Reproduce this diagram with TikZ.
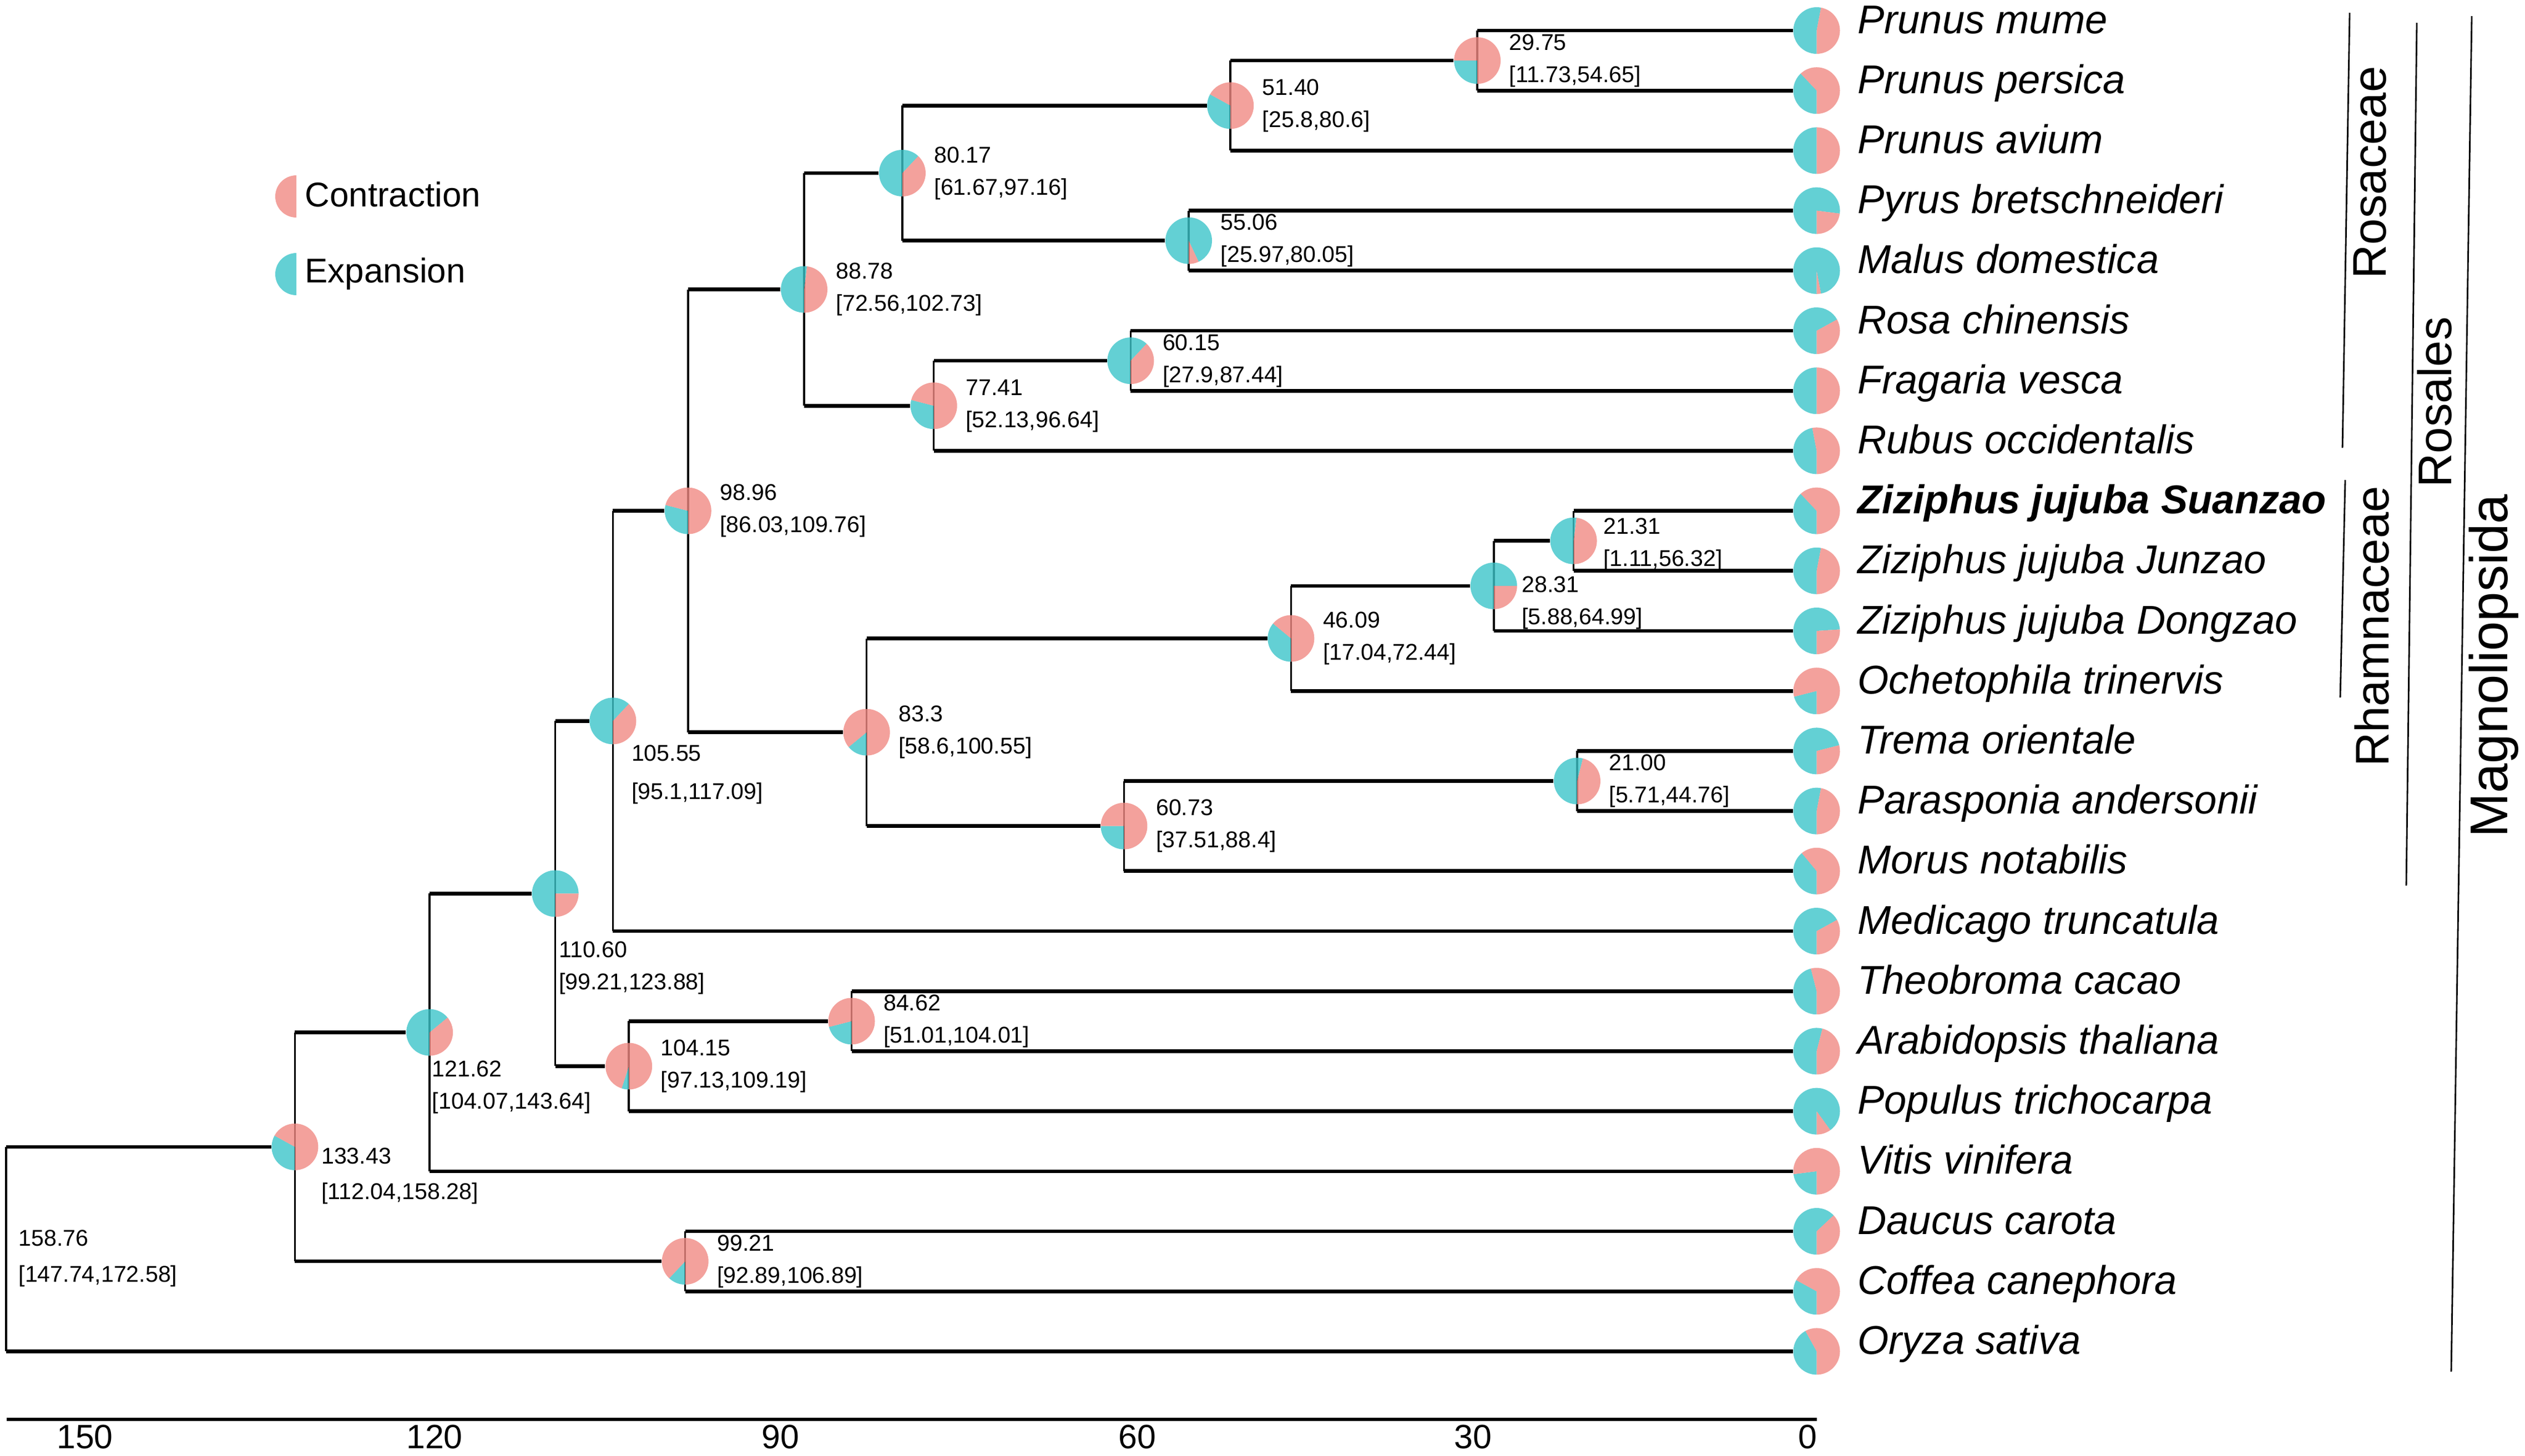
\documentclass[tikz,border=0pt]{standalone}
\usepackage{fontspec}
\setmainfont{Liberation Sans}
\usetikzlibrary{positioning}

\definecolor{expcol}{RGB}{60,196,201}
\definecolor{concol}{RGB}{240,137,131}

% age -> x (cm), tip row -> y (cm)
\newcommand{\agex}[1]{32.735-0.2055*#1}
\newcommand{\rowy}[1]{-0.55-1.082*#1}
\newcommand{\tipfont}{\fontsize{20.6pt}{24pt}\selectfont\itshape}
\newcommand{\agefont}{\fontsize{11.7pt}{16.5pt}\selectfont}
\newcommand{\agetext}[2]{#1\\{}[#2]}
% #1 node, #2 share of expansion (clockwise from 6 o'clock)
\newcommand{\drawpie}[2]{%
  \fill[expfill] (#1.center) -- ++(-90:0.42) arc[start angle=270, end angle={270-360*#2}, radius=0.42] -- cycle;
  \fill[confill] (#1.center) -- ++(-90:0.42) arc[start angle=-90, end angle={270-360*#2}, radius=0.42] -- cycle;
}

\tikzset{
  pienode/.style={circle, inner sep=0pt, minimum size=0.84cm},
  expfill/.style={fill=expcol, fill opacity=0.8},
  confill/.style={fill=concol, fill opacity=0.8},
  hbranch/.style={line width=1.9pt},
  vbranch/.style={line width=1pt},
  tiplabel/.style={font=\tipfont, inner sep=0pt, anchor=base west},
  agelabel/.style={font=\agefont, align=left, inner sep=0pt, anchor=west},
  legendlabel/.style={font=\fontsize{17.6pt}{20pt}\selectfont, inner sep=0pt, anchor=west},
  ticklabel/.style={font=\fontsize{17.3pt}{20pt}\selectfont, inner sep=0pt},
  cladebar/.style={line width=0.8pt},
  cladelabel/.style={font=\fontsize{24.2pt}{28pt}\selectfont, rotate=90, inner sep=0pt},
}

\begin{document}
\begin{tikzpicture}
\useasboundingbox (0,0) rectangle (45.5,-26.23);

% tips
\foreach \nm/\row/\txt in {mume/0/Prunus mume, persica/1/Prunus persica,
  avium/2/Prunus avium, pyrus/3/Pyrus bretschneideri, malus/4/Malus domestica,
  rosa/5/Rosa chinensis, fragaria/6/Fragaria vesca, rubus/7/Rubus occidentalis,
  suanzao/8/{\bfseries Ziziphus jujuba Suanzao}, junzao/9/Ziziphus jujuba Junzao,
  dongzao/10/Ziziphus jujuba Dongzao, ochetophila/11/Ochetophila trinervis,
  trema/12/Trema orientale, parasponia/13/Parasponia andersonii,
  morus/14/Morus notabilis, medicago/15/Medicago truncatula,
  theobroma/16/Theobroma cacao, arabidopsis/17/Arabidopsis thaliana,
  populus/18/Populus trichocarpa, vitis/19/Vitis vinifera,
  daucus/20/Daucus carota, coffea/21/Coffea canephora, oryza/22/Oryza sativa}
{
  \node[pienode] (\nm) at (32.735, {\rowy{\row}}) {};
  \node[tiplabel] (l\nm) at ([xshift=0.73cm, yshift=-0.05cm]\nm.center) {\txt};
}

% internal nodes
\node[pienode] (n2975) at ({\agex{29.75}}, {\rowy{0.5}}) {};
\node[pienode] (n5140) at ({\agex{51.40}}, {\rowy{1.25}}) {};
\node[pienode] (n5506) at ({\agex{55.06}}, {\rowy{3.5}}) {};
\node[pienode] (n8017) at ({\agex{80.17}}, {\rowy{2.375}}) {};
\node[pienode] (n6015) at ({\agex{60.15}}, {\rowy{5.5}}) {};
\node[pienode] (n7741) at ({\agex{77.41}}, {\rowy{6.25}}) {};
\node[pienode] (n8878) at ({\agex{88.78}}, {\rowy{4.3125}}) {};
\node[pienode] (n2131) at ({\agex{21.31}}, {\rowy{8.5}}) {};
\node[pienode] (n2831) at ({\agex{28.31}}, {\rowy{9.25}}) {};
\node[pienode] (n4609) at ({\agex{46.09}}, {\rowy{10.125}}) {};
\node[pienode] (n2100) at ({\agex{21.00}}, {\rowy{12.5}}) {};
\node[pienode] (n6073) at ({\agex{60.73}}, {\rowy{13.25}}) {};
\node[pienode] (n833) at ({\agex{83.3}}, {\rowy{11.6875}}) {};
\node[pienode] (n9896) at ({\agex{98.96}}, {\rowy{8}}) {};
\node[pienode] (n10555) at ({\agex{105.55}}, {\rowy{11.5}}) {};
\node[pienode] (n8462) at ({\agex{84.62}}, {\rowy{16.5}}) {};
\node[pienode] (n10415) at ({\agex{104.15}}, {\rowy{17.25}}) {};
\node[pienode] (n11060) at ({\agex{110.60}}, {\rowy{14.375}}) {};
\node[pienode] (n12162) at ({\agex{121.62}}, {\rowy{16.6875}}) {};
\node[pienode] (n9921) at ({\agex{99.21}}, {\rowy{20.5}}) {};
\node[pienode] (n13343) at ({\agex{133.43}}, {\rowy{18.59375}}) {};
\coordinate (root) at ({\agex{158.76}}, {\rowy{20.296875}});

% branches
\foreach \p/\a/\b in {n2975/mume/persica, n5140/n2975/avium, n5506/pyrus/malus,
  n8017/n5140/n5506, n6015/rosa/fragaria, n7741/n6015/rubus, n8878/n8017/n7741,
  n2131/suanzao/junzao, n2831/n2131/dongzao, n4609/n2831/ochetophila,
  n2100/trema/parasponia, n6073/n2100/morus, n833/n4609/n6073,
  n9896/n8878/n833, n10555/n9896/medicago, n8462/theobroma/arabidopsis,
  n10415/n8462/populus, n11060/n10555/n10415, n12162/n11060/vitis,
  n9921/daucus/coffea, n13343/n12162/n9921, root/n13343/oryza}
{
  \draw[vbranch] (\p |- \a) -- (\p |- \b);
  \draw[hbranch] (\p |- \a) -- (\a);
  \draw[hbranch] (\p |- \b) -- (\b);
}

% pies
\foreach \nm/\f in {mume/0.53, persica/0.38, avium/0.5, pyrus/0.77, malus/0.97,
  rosa/0.67, fragaria/0.5, rubus/0.47, suanzao/0.38, junzao/0.53, dongzao/0.74,
  ochetophila/0.21, trema/0.71, parasponia/0.53, morus/0.39, medicago/0.67,
  theobroma/0.46, arabidopsis/0.54, populus/0.9, vitis/0.23, daucus/0.63,
  coffea/0.33, oryza/0.42,
  n2975/0.25, n5140/0.33, n5506/0.93, n8017/0.62, n6015/0.62, n7741/0.29,
  n8878/0.52, n2131/0.52, n2831/0.75, n4609/0.36, n2100/0.54, n6073/0.25,
  n833/0.14, n9896/0.29, n10555/0.62, n8462/0.21, n10415/0.05, n11060/0.75,
  n12162/0.64, n9921/0.12, n13343/0.33}
  \drawpie{\nm}{\f};

% ages with intervals
\foreach \nm/\val/\rng in {n2975/29.75/{11.73,54.65}, n5140/51.40/{25.8,80.6},
  n5506/55.06/{25.97,80.05}, n8017/80.17/{61.67,97.16}, n6015/60.15/{27.9,87.44},
  n7741/77.41/{52.13,96.64}, n8878/88.78/{72.56,102.73}, n4609/46.09/{17.04,72.44},
  n2100/21.00/{5.71,44.76}, n6073/60.73/{37.51,88.4}, n833/83.3/{58.6,100.55},
  n9896/98.96/{86.03,109.76}, n8462/84.62/{51.01,104.01},
  n10415/104.15/{97.13,109.19}, n9921/99.21/{92.89,106.89}}
  \node[agelabel] (a\nm) at ([xshift=0.57cm]\nm.center) {\agetext{\val}{\rng}};
\node[agelabel] (a2131) at ([xshift=0.53cm, yshift=-0.07cm]n2131.center) {\agetext{21.31}{1.11,56.32}};
\node[agelabel] (a2831) at ([xshift=0.50cm, yshift=-0.31cm]n2831.center) {\agetext{28.31}{5.88,64.99}};
\node[agelabel, font=\fontsize{11.7pt}{19.6pt}\selectfont] (a10555) at ([xshift=0.33cm, yshift=-0.965cm]n10555.center) {\agetext{105.55}{95.1,117.09}};
\node[agelabel] (a11060) at ([xshift=0.06cm, yshift=-1.34cm]n11060.center) {\agetext{110.60}{99.21,123.88}};
\node[agelabel] (a12162) at ([xshift=0.04cm, yshift=-0.985cm]n12162.center) {\agetext{121.62}{104.07,143.64}};
\node[agelabel, font=\fontsize{11.7pt}{18.2pt}\selectfont] (a13343) at ([xshift=0.47cm, yshift=-0.53cm]n13343.center) {\agetext{133.43}{112.04,158.28}};
\node[agelabel, font=\fontsize{11.7pt}{18.5pt}\selectfont] (aroot) at ([xshift=0.22cm, yshift=-0.165cm]root) {\agetext{158.76}{147.74,172.58}};

% legend
\fill[confill] (5.34,-3.16) arc[start angle=90, end angle=270, radius=0.38] -- cycle;
\fill[expfill] (5.34,-4.56) arc[start angle=90, end angle=270, radius=0.38] -- cycle;
\node[legendlabel] (lcon) at (5.49,-3.5) {Contraction};
\node[legendlabel] (lexp) at (5.49,-4.93) {Expansion};

% time axis
\draw[line width=1.9pt] (0.12,-25.58) -- (32.74,-25.58);
\foreach \val/\x in {150/1.53, 120/7.83, 90/14.06, 60/20.49, 30/26.54, 0/32.57}
  \node[ticklabel] (t\val) at (\x,-25.90) {\val};

% clades
\draw[cladebar] (42.34,-0.23) -- (42.21,-8.07);
\node[cladelabel] (rosaceae) at (42.71,-3.11) {Rosaceae};
\draw[cladebar] (42.26,-8.65) -- (42.17,-12.57);
\node[cladelabel] (rhamnaceae) at (42.74,-11.29) {Rhamnaceae};
\draw[cladebar] (43.55,-0.41) -- (43.36,-15.96);
\node[cladelabel] (rosales) at (43.87,-7.25) {Rosales};
\draw[cladebar] (44.54,-0.29) -- (44.17,-24.72);
\node[cladelabel, font=\fontsize{27.3pt}{32pt}\selectfont] (magnoliopsida) at (44.94,-12.0) {Magnoliopsida};
\end{tikzpicture}
\end{document}
